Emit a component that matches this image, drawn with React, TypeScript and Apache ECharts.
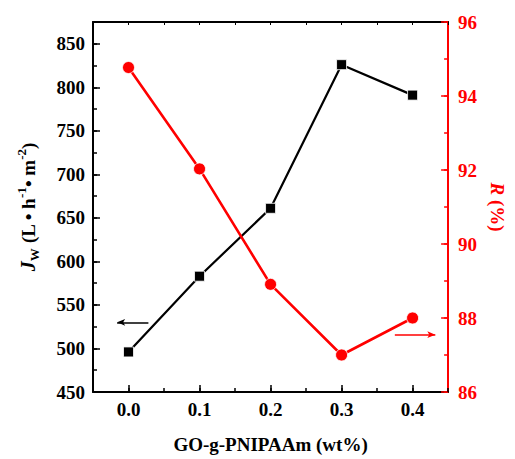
import React, { useEffect, useRef } from "react";
import * as echarts from "echarts";

const xValues = [0.0, 0.1, 0.2, 0.3, 0.4];
const fluxValues = [496, 583, 661, 826, 791];
const rejectionValues = [94.77, 92.03, 88.91, 87.0, 88.0];
const xMajorTicks = [0, 0.1, 0.2, 0.3, 0.4];
const leftMajorTicks = [450, 500, 550, 600, 650, 700, 750, 800, 850];
const rightMajorTicks = [86, 88, 90, 92, 94, 96];

const FONT = "Liberation Serif";
const RED = "#ff0000";

export default function App() {
  const ref = useRef<HTMLDivElement>(null);
  useEffect(() => {
    if (!ref.current) return;
    const chart = echarts.init(ref.current, undefined, { renderer: "svg" });
    const baseLabel = { fontFamily: FONT, fontWeight: "bold" as const, fontSize: 19, color: "#000" };
    const isMult = (v: number, step: number) => Math.abs(v / step - Math.round(v / step)) < 1e-6;
    chart.setOption({
      animation: false,
      backgroundColor: "#fff",
      textStyle: { fontFamily: FONT },
      grid: { left: 93, right: 54, top: 22, bottom: 62, containLabel: false },
      xAxis: [
        {
          type: "value",
          position: "bottom",
          min: -0.05,
          max: 0.45,
          interval: 0.05,
          name: "GO-g-PNIPAAm (wt%)",
          nameLocation: "middle",
          nameGap: 43,
          nameTextStyle: { ...baseLabel, fontSize: 19 },
          axisLine: { show: true, onZero: false, lineStyle: { color: "#000", width: 2 } },
          axisTick: { show: true, inside: true, length: 4, lineStyle: { color: "#000", width: 1.5 } },
          axisLabel: {
            ...baseLabel,
            margin: 8,
            formatter: (v: number) => (isMult(v, 0.1) && v >= -1e-9 ? v.toFixed(1) : ""),
          },
          splitLine: { show: false },
        },
        {
          type: "value",
          position: "bottom",
          min: -0.05,
          max: 0.45,
          interval: 0.05,
          axisLine: { show: false, onZero: false },
          axisTick: { show: true, inside: true, length: 7, customValues: xMajorTicks, lineStyle: { color: "#000", width: 1.5 } },
          axisLabel: { show: false },
          splitLine: { show: false },
        },
        {
          type: "value",
          position: "top",
          min: -0.05,
          max: 0.45,
          interval: 0.05,
          axisLine: { show: true, onZero: false, lineStyle: { color: "#000", width: 2 } },
          axisTick: { show: true, inside: true, length: 3, lineStyle: { color: "#000", width: 1 } },
          axisLabel: { show: false },
          splitLine: { show: false },
        },
      ],
      yAxis: [
        {
          type: "value",
          position: "left",
          min: 450,
          max: 875,
          interval: 25,
          name: "{i|J}{sub|W}{n| (L • h}{sup|-1}{n|• m}{sup|-2}{n|)}",
          nameLocation: "middle",
          nameGap: 52,
          nameRotate: 90,
          nameTextStyle: {
            ...baseLabel,
            rich: {
              i: { fontFamily: FONT, fontWeight: "bold", fontStyle: "italic", fontSize: 20, color: "#000", lineHeight: 26, verticalAlign: "middle" },
              sub: { fontFamily: FONT, fontWeight: "bold", fontSize: 13, color: "#000", lineHeight: 26, verticalAlign: "bottom" },
              sup: { fontFamily: FONT, fontWeight: "bold", fontSize: 13, color: "#000", lineHeight: 26, verticalAlign: "top" },
              n: { fontFamily: FONT, fontWeight: "bold", fontSize: 19, color: "#000", lineHeight: 26, verticalAlign: "middle" },
            },
          },
          axisLine: { show: true, onZero: false, lineStyle: { color: "#000", width: 2 } },
          axisTick: { show: true, inside: true, length: 4, lineStyle: { color: "#000", width: 1.5 } },
          axisLabel: {
            ...baseLabel,
            margin: 8,
            formatter: (v: number) => (isMult(v, 50) ? String(v) : ""),
          },
          splitLine: { show: false },
        },
        {
          type: "value",
          position: "right",
          min: 86,
          max: 96,
          interval: 1,
          name: "{i|R} {n|(%)}",
          nameLocation: "middle",
          nameGap: 36,
          nameRotate: -90,
          nameTextStyle: {
            ...baseLabel,
            color: RED,
            rich: {
              i: { fontFamily: FONT, fontWeight: "bold", fontStyle: "italic", fontSize: 19, color: RED },
              n: { fontFamily: FONT, fontWeight: "bold", fontSize: 19, color: RED },
            },
          },
          axisLine: { show: true, onZero: false, lineStyle: { color: RED, width: 2 } },
          axisTick: { show: true, inside: true, length: 4, lineStyle: { color: RED, width: 1.5 } },
          axisLabel: {
            ...baseLabel,
            color: RED,
            margin: 10,
            formatter: (v: number) => (isMult(v, 2) ? String(v) : ""),
          },
          splitLine: { show: false },
        },
        {
          type: "value",
          position: "left",
          min: 450,
          max: 875,
          interval: 25,
          axisLine: { show: false, onZero: false },
          axisTick: { show: true, inside: true, length: 7, customValues: leftMajorTicks, lineStyle: { color: "#000", width: 1.5 } },
          axisLabel: { show: false },
          splitLine: { show: false },
        },
        {
          type: "value",
          position: "right",
          min: 86,
          max: 96,
          interval: 1,
          axisLine: { show: false, onZero: false },
          axisTick: { show: true, inside: true, length: 7, customValues: rightMajorTicks, lineStyle: { color: RED, width: 1.5 } },
          axisLabel: { show: false },
          splitLine: { show: false },
        },
      ],
      series: [
        {
          type: "line",
          xAxisIndex: 0,
          yAxisIndex: 0,
          data: xValues.map((x, i) => [x, fluxValues[i]]),
          symbol: "rect",
          symbolSize: 10,
          itemStyle: { color: "#000", borderColor: "#fff", borderWidth: 0.8 },
          lineStyle: { color: "#000", width: 2.2 },
          z: 3,
          markLine: {
            silent: true,
            symbol: ["none", "arrow"],
            symbolSize: [5, 8],
            label: { show: false },
            lineStyle: { color: "#000", width: 1.5, type: "solid" },
            data: [[{ coord: [0.028, 530] }, { coord: [-0.016, 530] }]],
          },
        },
        {
          type: "line",
          xAxisIndex: 0,
          yAxisIndex: 1,
          data: xValues.map((x, i) => [x, rejectionValues[i]]),
          symbol: "circle",
          symbolSize: 12,
          itemStyle: { color: RED, borderColor: "#fff", borderWidth: 0.8 },
          lineStyle: { color: RED, width: 2.6 },
          z: 4,
          markLine: {
            silent: true,
            symbol: ["none", "arrow"],
            symbolSize: [5, 8],
            label: { show: false },
            lineStyle: { color: RED, width: 1.5, type: "solid" },
            data: [[{ coord: [0.375, 87.55] }, { coord: [0.432, 87.55] }]],
          },
        },
      ],
    });
    return () => chart.dispose();
  }, []);
  return <div ref={ref} style={{ position: "fixed", left: 0, top: 0, width: 515, height: 459 }} />;
}
